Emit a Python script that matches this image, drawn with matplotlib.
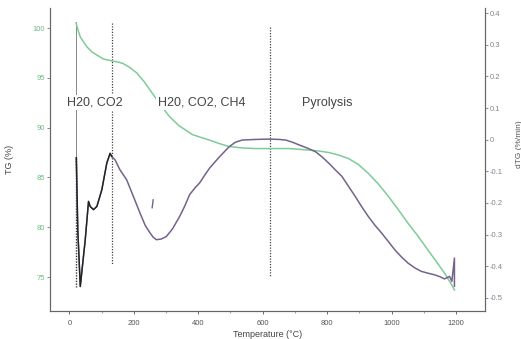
import numpy as np
import matplotlib
matplotlib.use("Agg")
import matplotlib.pyplot as plt
from matplotlib.ticker import MultipleLocator

plt.rcParams['font.family'] = ['Liberation Sans', 'DejaVu Sans']

# TG curve (left axis, %)
tg_T = [20.7, 27, 34, 44, 55, 70, 85, 105, 132, 150, 166, 185, 209, 230, 250, 280,
        311, 340, 382, 410, 435, 465, 496, 540, 579, 681, 743, 775, 805, 835, 866,
        897, 928, 960, 990, 1020, 1051, 1082, 1113, 1140, 1164, 1185, 1195]
tg = [100.5, 99.8, 99.1, 98.6, 98.1, 97.6, 97.3, 96.9, 96.7, 96.6, 96.45, 96.1,
      95.5, 94.7, 93.8, 92.4, 91.1, 90.2, 89.3, 89.0, 88.75, 88.4, 88.1, 87.95,
      87.9, 87.9, 87.75, 87.65, 87.5, 87.25, 86.9, 86.3, 85.4, 84.3, 83.1, 81.8,
      80.4, 79.1, 77.7, 76.5, 75.4, 74.3, 73.7]

# dTG curve (right axis, %/min)
dtg_T = [21.6, 26.2, 33.9, 49.3, 59.5, 64.7, 74.9, 85.4, 100.8, 116.2, 126.4, 131.6,
         142, 157, 178, 195, 219, 235, 250, 260, 270, 285, 301, 320, 342, 358, 373,
         390, 404, 420, 435, 465, 496, 515, 536, 580, 620, 650, 671, 690, 712, 740,
         764, 785, 805, 825, 846, 866, 887, 908, 928, 948, 969, 990, 1010, 1030, 1051,
         1072, 1092, 1113, 1133, 1150, 1164, 1180, 1187, 1195, 1195]
dtg = [-0.057, -0.285, -0.464, -0.316, -0.195, -0.211, -0.221, -0.211, -0.158, -0.074,
       -0.043, -0.053, -0.064, -0.095, -0.127, -0.17, -0.231, -0.27, -0.294, -0.308,
       -0.316, -0.314, -0.306, -0.282, -0.243, -0.21, -0.174, -0.152, -0.137, -0.112,
       -0.090, -0.055, -0.022, -0.008, -0.001, 0.001, 0.002, 0.001, -0.001, -0.007,
       -0.016, -0.027, -0.038, -0.055, -0.074, -0.095, -0.116, -0.147, -0.179, -0.213,
       -0.243, -0.270, -0.295, -0.322, -0.348, -0.370, -0.390, -0.405, -0.416, -0.422,
       -0.427, -0.433, -0.440, -0.432, -0.448, -0.374, -0.463]
n_dark = 12  # early part drawn dark

blip_T = [257, 260]
blip = [-0.215, -0.19]

# stage boundaries (temperature, TG top, TG bottom)
bound_T = [21.6, 133.5, 624]
bound_top = [100.6, 100.5, 100.1]
bound_bot = [74.0, 76.2, 75.0]

labels = ["H20, CO2", "H20, CO2, CH4", "Pyrolysis"]
label_T = [80, 410, 801]
label_y = 92.5

green = '#7fcb98'
purple = '#75628a'

fig = plt.figure(figsize=(5.21, 3.39), dpi=100)
ax = fig.add_axes([0.096, 0.083, 0.835, 0.893])
ax2 = ax.twinx()

ax.set_xlim(-60, 1290)
ax.set_ylim(71.6, 102.0)
ax2.set_ylim(-0.541, 0.416)

ax.plot(tg_T, tg, color=green, lw=1.1, zorder=3)
ax2.plot(dtg_T, dtg, color=purple, lw=1.1, zorder=3)
ax2.plot(dtg_T[:n_dark], dtg[:n_dark], color='#222222', lw=1.0, zorder=4)
ax2.plot(blip_T, blip, color=purple, lw=1.0)

# boundary lines
ax.plot([bound_T[0]] * 2, [bound_top[0], 87.0], color='#888888', lw=0.7, zorder=2)
ax.plot([bound_T[0]] * 2, [87.0, bound_bot[0]], color='#333333', lw=1.0, ls=(0, (1, 1)), zorder=2)
for t, a, b in zip(bound_T[1:], bound_top[1:], bound_bot[1:]):
    ax.plot([t, t], [a, b], color='#444444', lw=0.9, ls=(0, (1, 1.2)), zorder=2)

for s, t in zip(labels, label_T):
    y2 = ax2.transData.inverted().transform(ax.transData.transform((t, label_y)))[1]
    ax2.text(t, y2, s, ha='center', va='center', fontsize=9, color='#444444', zorder=6,
             bbox=dict(facecolor='white', edgecolor='none', pad=1.0))

ax.set_xticks(range(0, 1201, 200))
ax.xaxis.set_minor_locator(MultipleLocator(100))
ax.set_yticks([75, 80, 85, 90, 95, 100])
ax2.set_yticks([-0.5, -0.4, -0.3, -0.2, -0.1, 0, 0.1, 0.2, 0.3, 0.4])
ax2.set_yticklabels(['-0.5', '-0.4', '-0.3', '-0.2', '-0.1', '0', '0.1', '0.2', '0.3', '0.4'])

ax.tick_params(axis='x', labelsize=5.5, colors='#555555', length=2.5, width=0.6, pad=4)
ax.tick_params(axis='x', which='minor', length=1.5, width=0.5, colors='#777777')
ax.tick_params(axis='y', labelsize=5.5, length=2.5, width=0.6, colors='#777777',
               labelcolor='#6dbb86', pad=1)
ax2.tick_params(axis='y', labelsize=5.5, length=2.5, width=0.6, colors='#777777',
                labelcolor='#8a7c96', pad=1)

for a in (ax, ax2):
    a.spines['top'].set_visible(False)
    for sp in ('left', 'right', 'bottom'):
        a.spines[sp].set_color('#666666')
        a.spines[sp].set_linewidth(0.8)

ax.set_xlabel('Temperature (°C)', fontsize=6.5, color='#444444', labelpad=2)
ax.set_ylabel('TG (%)', fontsize=6.5, color='#444444')
ax.yaxis.set_label_coords(-0.083, 0.5)
ax2.set_ylabel('dTG (%/min)', fontsize=6, color='#555555')
ax2.yaxis.set_label_coords(1.07, 0.55)

fig.savefig('out.png', dpi=100)
